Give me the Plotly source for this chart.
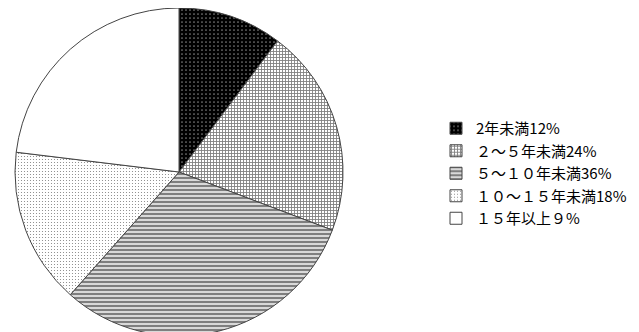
import plotly.graph_objects as go

labels = ["2年未満12%", "２～５年未満24%", "５～１０年未満36%", "１０～１５年未満18%", "１５年以上９%"]
values = [12, 24, 36, 18, 27]
bg_colors = ["black", "white", "white", "white", "white"]
pat_shapes = [".", "+", "-", ".", ""]
pat_fg = ["white", "black", "black", "black", "black"]
pat_size = [4, 3, 4, 3, 4]
pat_sol = [0.15, 0.5, 0.65, 0.12, 0.1]

fig = go.Figure(go.Pie(
    labels=labels,
    values=values,
    sort=False,
    direction="clockwise",
    rotation=0,
    textinfo="none",
    hoverinfo="label",
    marker=dict(
        colors=bg_colors,
        line=dict(color="#444444", width=1),
        pattern=dict(shape=pat_shapes, fgcolor=pat_fg, size=pat_size,
                     solidity=pat_sol, fillmode="overlay"),
    ),
    domain=dict(x=[7/639, 335/639], y=[4/332, 1.0]),
))

fig.update_layout(
    width=639, height=332,
    margin=dict(l=0, r=0, t=0, b=0),
    paper_bgcolor="white",
    plot_bgcolor="white",
    font=dict(family="Noto Sans CJK JP", color="black", size=15),
    legend=dict(x=428/639, y=1-104/332, xanchor="left", yanchor="top",
                font=dict(size=15), itemwidth=30, bgcolor="rgba(0,0,0,0)"),
)

fig.write_html("out.html")
